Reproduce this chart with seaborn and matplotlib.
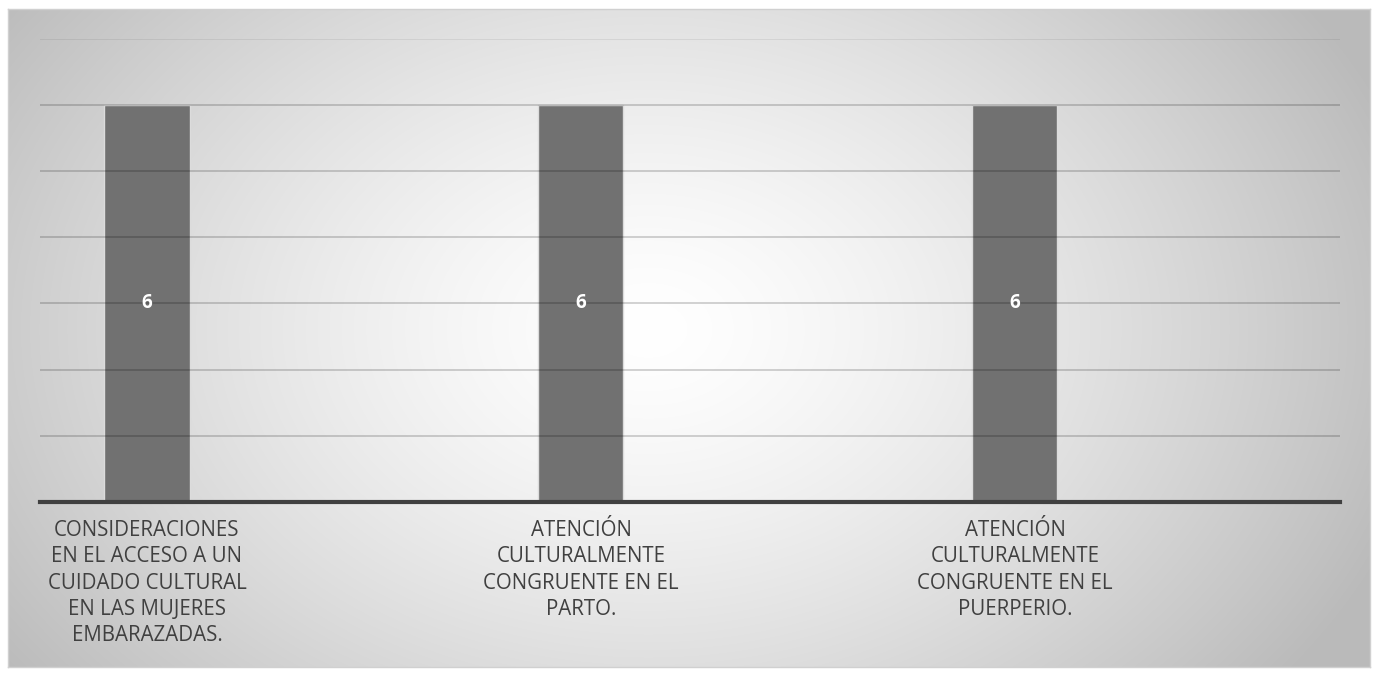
import numpy as np
import pandas as pd
import matplotlib
matplotlib.use("Agg")
import matplotlib.pyplot as plt
import seaborn as sns

categories = [
    "CONSIDERACIONES\nEN EL ACCESO A UN\nCUIDADO CULTURAL\nEN LAS MUJERES\nEMBARAZADAS.",
    "ATENCIÓN\nCULTURALMENTE\nCONGRUENTE EN EL\nPARTO.",
    "ATENCIÓN\nCULTURALMENTE\nCONGRUENTE EN EL\nPUERPERIO.",
]
values = [6, 6, 6]
value_labels = ["6", "6", "6"]

sns.set_theme(style="white")
plt.rcParams["font.family"] = ["Open Sans", "DejaVu Sans"]

W, H = 1377, 675
fig = plt.figure(figsize=(W / 100, H / 100), dpi=100)
fig.patch.set_facecolor("white")

# Chart-area panel with a radial grey gradient
x0, y0, x1, y1 = 8, 9, 1370, 667
bg = fig.add_axes([x0 / W, 1 - y1 / H, (x1 - x0) / W, (y1 - y0) / H])
gw, gh = x1 - x0, y1 - y0
xx, yy = np.meshgrid(np.arange(gw), np.arange(gh))
cx, cy = 640, 320
r = np.sqrt(((xx - cx) / 800.0) ** 2 + ((yy - cy) / 580.0) ** 2)
r = np.clip(r, 0, 1)
shade = 1.0 - 0.27 * r ** 1.4
img = np.dstack([shade, shade, shade])
bg.imshow(img, aspect="auto", extent=[0, gw, gh, 0], interpolation="bilinear")
bg.set_xticks([]); bg.set_yticks([])
for s in bg.spines.values():
    s.set_color("#d0d0d0")
    s.set_linewidth(1)
bg.set_zorder(0)

ax = fig.add_axes([40 / W, 1 - 502 / H, 1300 / W, (502 - 38.8) / H])
ax.set_zorder(1)
ax.patch.set_alpha(0)

df = pd.DataFrame({"cat": categories, "val": values})
sns.barplot(data=df, x="cat", y="val", color="#717171", saturation=1,
            width=0.196, edgecolor="#dcdcdc", linewidth=1.0, ax=ax, zorder=2)

ax.set_xlim(-0.2465, 2.749)
ax.set_ylim(0, 7)
ax.set_yticks(range(1, 8))
ax.set_yticklabels([])
ax.tick_params(axis="y", length=0)
for yv in range(1, 8):
    ax.axhline(yv, color="black", alpha=0.2 if yv < 7 else 0.08,
               linewidth=1.2, zorder=3)

for i, (v, lab) in enumerate(zip(values, value_labels)):
    ax.text(i, v / 2, lab, ha="center", va="center", color="white",
            fontsize=13.5, fontweight="bold", zorder=4)

ax.set_xlabel("")
ax.set_ylabel("")
ax.tick_params(axis="x", length=0, pad=13, labelsize=14.8, labelcolor="#404040")
for t in ax.get_xticklabels():
    t.set_linespacing(1.33)

for side in ["top", "right", "left"]:
    ax.spines[side].set_visible(False)
ax.spines["bottom"].set_color("#404040")
ax.spines["bottom"].set_linewidth(3)
ax.spines["bottom"].set_zorder(5)

fig.savefig("out.png", dpi=100)
